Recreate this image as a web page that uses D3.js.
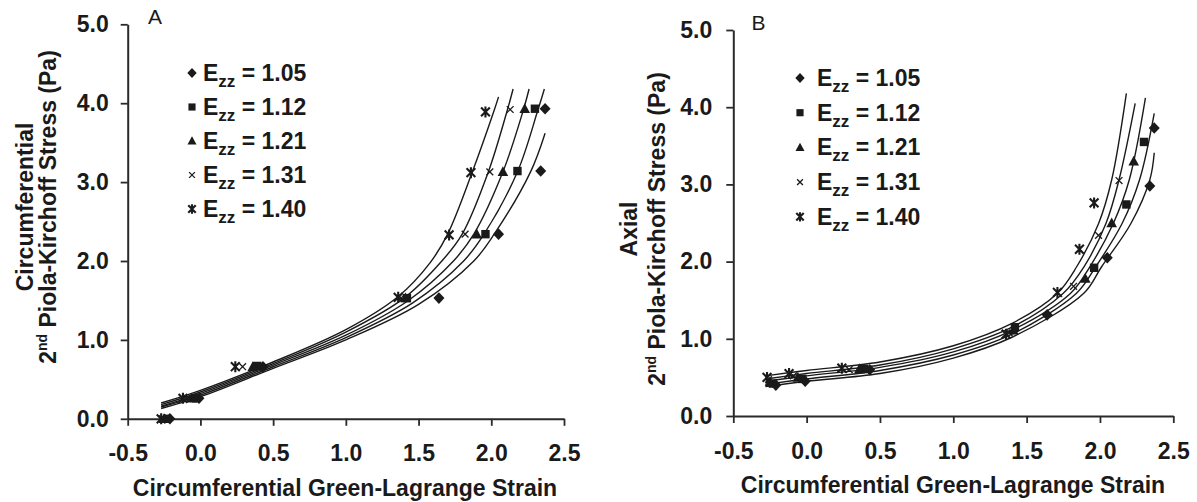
<!DOCTYPE html>
<html><head><meta charset="utf-8">
<script src="https://cdn.jsdelivr.net/npm/d3@7/dist/d3.min.js"></script>
<style>
body{margin:0;background:#fff}
svg{display:block}
text{font-family:"Liberation Sans",Arial,sans-serif;fill:#1a1a1a}
</style></head><body>
<svg id="c" width="1197" height="502"></svg>
<script>
// ---------------- data ----------------
const ezzLabels = ["1.05", "1.12", "1.21", "1.31", "1.40"];
const markerTypes = ["diamond", "square", "triangle", "cross", "star"];
const xTicks = [-0.5, 0.0, 0.5, 1.0, 1.5, 2.0, 2.5];
const yTicks = [0.0, 1.0, 2.0, 3.0, 4.0, 5.0];

// circumferential Green-Lagrange strain of each measured point
const strain_105 = [-0.21, -0.01, 0.43, 1.64, 2.05, 2.34, 2.37];
const strain_112 = [-0.23, -0.03, 0.39, 1.42, 1.96, 2.18, 2.30];
const strain_121 = [-0.25, -0.06, 0.36, 1.41, 1.90, 2.08, 2.23];
const strain_131 = [-0.26, -0.09, 0.29, 1.38, 1.82, 1.99, 2.13];
const strain_140 = [-0.27, -0.12, 0.24, 1.36, 1.71, 1.86, 1.96];

// panel A: circumferential stress
const circ_105 = [0.00, 0.26, 0.66, 1.53, 2.34, 3.14, 3.93];
const circ_112 = [0.00, 0.26, 0.67, 1.53, 2.34, 3.14, 3.93];
const circ_121 = [0.00, 0.26, 0.66, 1.53, 2.34, 3.13, 3.93];
const circ_131 = [0.00, 0.26, 0.66, 1.53, 2.34, 3.13, 3.92];
const circ_140 = [0.00, 0.26, 0.66, 1.54, 2.33, 3.12, 3.89];

// panel B: axial stress
const axial_105 = [0.40, 0.45, 0.60, 1.31, 2.05, 2.98, 3.73];
const axial_112 = [0.42, 0.48, 0.61, 1.15, 1.92, 2.74, 3.55];
const axial_121 = [0.44, 0.50, 0.61, 1.11, 1.78, 2.50, 3.30];
const axial_131 = [0.47, 0.52, 0.60, 1.08, 1.68, 2.34, 3.05];
const axial_140 = [0.50, 0.55, 0.62, 1.06, 1.60, 2.16, 2.76];

// fitted model curves [strain, stress]
const fitA_105 = [[-0.27,0.13],[0,0.28],[0.5,0.64],[1.0,1.00],[1.50,1.45],[1.88,2.00],[2.02,2.34],[2.27,3.13],[2.37,3.62]];
const fitA_112 = [[-0.27,0.15],[0,0.30],[0.5,0.66],[1.0,1.03],[1.46,1.47],[1.81,2.00],[1.95,2.34],[2.18,3.13],[2.32,3.91],[2.365,4.18]];
const fitA_121 = [[-0.27,0.16],[0,0.32],[0.5,0.68],[1.0,1.06],[1.43,1.50],[1.74,2.00],[1.88,2.34],[2.08,3.13],[2.22,3.91],[2.26,4.18]];
const fitA_131 = [[-0.27,0.18],[0,0.34],[0.5,0.70],[1.0,1.10],[1.40,1.53],[1.66,2.00],[1.80,2.34],[1.98,3.13],[2.11,3.91],[2.15,4.18]];
const fitA_140 = [[-0.27,0.20],[0,0.36],[0.5,0.72],[1.0,1.13],[1.36,1.55],[1.58,1.98],[1.70,2.34],[1.87,3.13],[2.02,3.91],[2.05,4.08]];

const fitB_105 = [[-0.28,0.38],[0,0.45],[0.5,0.55],[1.0,0.75],[1.4,1.02],[1.89,1.59],[2.01,1.93],[2.21,2.49],[2.34,3.06],[2.37,3.41]];
const fitB_112 = [[-0.28,0.41],[0,0.48],[0.5,0.59],[1.0,0.79],[1.4,1.06],[1.84,1.59],[1.97,1.93],[2.15,2.49],[2.27,3.06],[2.37,3.92]];
const fitB_121 = [[-0.28,0.45],[0,0.52],[0.5,0.63],[1.0,0.83],[1.4,1.11],[1.80,1.59],[1.93,1.93],[2.09,2.49],[2.20,3.06],[2.31,4.12]];
const fitB_131 = [[-0.28,0.48],[0,0.55],[0.5,0.66],[1.0,0.87],[1.4,1.15],[1.75,1.59],[1.89,1.93],[2.04,2.49],[2.13,3.06],[2.24,4.05]];
const fitB_140 = [[-0.28,0.52],[0,0.59],[0.5,0.70],[1.0,0.91],[1.4,1.20],[1.71,1.59],[1.84,1.93],[1.99,2.49],[2.08,3.06],[2.18,4.18]];

// ---------------- build ----------------
const strains = [strain_105, strain_112, strain_121, strain_131, strain_140];
const panels = [
  { letter: "A", stress: [circ_105, circ_112, circ_121, circ_131, circ_140],
    fits: [fitA_105, fitA_112, fitA_121, fitA_131, fitA_140],
    xr: [127.7, 564], yr: [418.8, 24.3], yPad: 12, xPad: 19,
    title1: "Circumferential", t1x: 33, t2x: 56, tcy: 207,
    letterPos: [148, 23.5], legX: 192, legTx: 203, legY: 73, legDy: 34,
    xTitle: [345, 496] },
  { letter: "B", stress: [axial_105, axial_112, axial_121, axial_131, axial_140],
    fits: [fitB_105, fitB_112, fitB_121, fitB_131, fitB_140],
    xr: [733.3, 1173.3], yr: [416, 30], yPad: 14, xPad: 20,
    title1: "Axial", t1x: 637, t2x: 665, tcy: 229,
    letterPos: [751.5, 30], legX: 800, legTx: 817, legY: 78, legDy: 34.7,
    xTitle: [953, 493] }
];

const svg = d3.select("#c");
const INK = "#1a1a1a";

function marker(g, type, x, y, k) {
  if (type === "diamond") {
    const s = 5.8 * k;
    g.append("path").attr("d", `M${x},${y - s}L${x + s * 0.95},${y}L${x},${y + s}L${x - s * 0.95},${y}Z`).attr("fill", INK);
  } else if (type === "square") {
    const s = 4.2 * k;
    g.append("rect").attr("x", x - s).attr("y", y - s).attr("width", 2 * s).attr("height", 2 * s).attr("fill", INK);
  } else if (type === "triangle") {
    const s = 5.3 * k;
    g.append("path").attr("d", `M${x},${y - s * 1.05}L${x + s},${y + s * 0.8}L${x - s},${y + s * 0.8}Z`).attr("fill", INK);
  } else if (type === "cross") {
    const s = 3.4 * k;
    g.append("path").attr("d", `M${x - s},${y - s}L${x + s},${y + s}M${x - s},${y + s}L${x + s},${y - s}`)
      .attr("stroke", INK).attr("stroke-width", 1.3).attr("fill", "none");
  } else {
    const s = 4.4 * k;
    g.append("path").attr("d", `M${x - s},${y - s}L${x + s},${y + s}M${x - s},${y + s}L${x + s},${y - s}M${x},${y - s * 1.25}L${x},${y + s * 1.25}`)
      .attr("stroke", INK).attr("stroke-width", 2.1).attr("fill", "none");
  }
}

const fmt = d => d.toFixed(1);

panels.forEach(p => {
  const x = d3.scaleLinear().domain([-0.5, 2.5]).range(p.xr);
  const y = d3.scaleLinear().domain([0, 5]).range(p.yr);
  const g = svg.append("g");

  // axes
  const ya = g.append("g").attr("transform", `translate(${p.xr[0]},0)`)
    .call(d3.axisLeft(y).tickValues(yTicks).tickSize(7).tickSizeOuter(0).tickPadding(p.yPad).tickFormat(fmt));
  const xa = g.append("g").attr("transform", `translate(0,${p.yr[0]})`)
    .call(d3.axisBottom(x).tickValues(xTicks).tickSize(7).tickSizeOuter(0).tickPadding(p.xPad).tickFormat(fmt));
  [ya, xa].forEach(a => {
    a.selectAll("path.domain").attr("stroke", "#2a2a2a").attr("stroke-width", 2);
    a.selectAll(".tick line").attr("stroke", "#2a2a2a").attr("stroke-width", 1.8);
    a.selectAll(".tick text").attr("font-size", 23).attr("font-weight", "bold")
      .attr("font-family", '"Liberation Sans",Arial,sans-serif').attr("fill", INK);
  });

  // fitted curves
  const line = d3.line().x(d => x(d[0])).y(d => y(d[1])).curve(d3.curveCatmullRom.alpha(0.5));
  p.fits.forEach(f => {
    g.append("path").attr("d", line(f)).attr("fill", "none").attr("stroke", INK).attr("stroke-width", 1.4);
  });

  // data points
  const mg = g.append("g");
  strains.forEach((sArr, i) => {
    sArr.forEach((s, j) => marker(mg, markerTypes[i], x(s), y(p.stress[i][j]), 1));
  });

  // legend
  ezzLabels.forEach((lab, i) => {
    const cy = p.legY + i * p.legDy;
    marker(g, markerTypes[i], p.legX, cy, 0.85);
    const t = g.append("text").attr("x", p.legTx).attr("y", cy + 8)
      .attr("font-size", 23).attr("font-weight", "bold");
    t.append("tspan").text("E");
    t.append("tspan").attr("font-size", 17).attr("dy", 6).text("zz");
    t.append("tspan").attr("dy", -6).text(" = " + lab);
  });

  // panel letter
  g.append("text").attr("x", p.letterPos[0]).attr("y", p.letterPos[1])
    .attr("font-size", 21).text(p.letter);

  // x title
  g.append("text").attr("x", p.xTitle[0]).attr("y", p.xTitle[1]).attr("text-anchor", "middle")
    .attr("font-size", 23).attr("font-weight", "bold").text("Circumferential Green-Lagrange Strain");

  // y title
  g.append("text").attr("transform", `translate(${p.t1x},${p.tcy}) rotate(-90)`).attr("text-anchor", "middle")
    .attr("font-size", 23).attr("font-weight", "bold").text(p.title1);
  const t2 = g.append("text").attr("transform", `translate(${p.t2x},${p.tcy}) rotate(-90)`).attr("text-anchor", "middle")
    .attr("font-size", 23).attr("font-weight", "bold");
  t2.append("tspan").text("2");
  t2.append("tspan").attr("font-size", 14).attr("dy", -9).text("nd");
  t2.append("tspan").attr("dy", 9).text(" Piola-Kirchoff Stress (Pa)");
});
</script>
</body></html>
